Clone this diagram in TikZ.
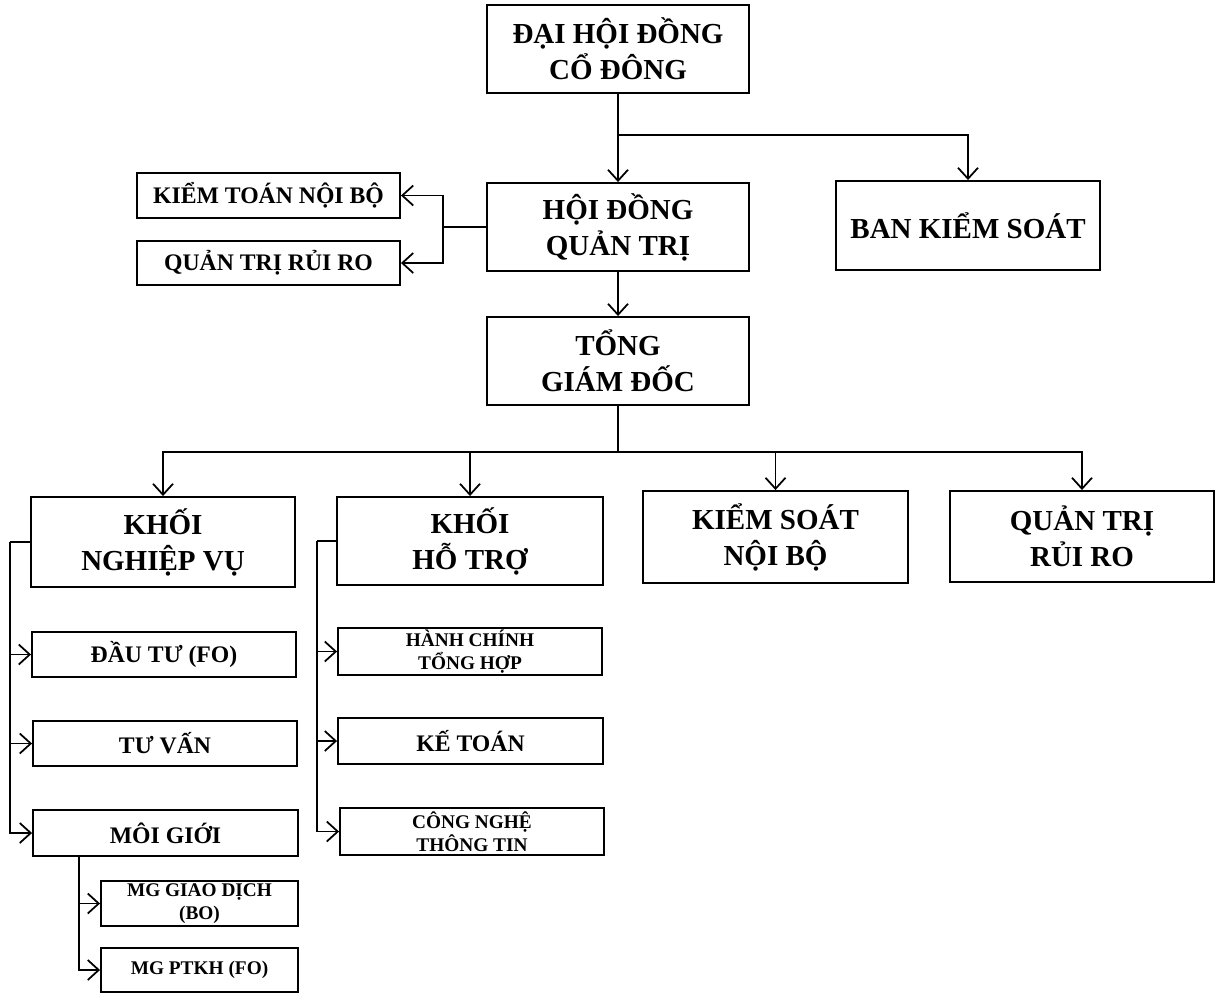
\documentclass[tikz,border=0pt]{standalone}
\usepackage{fontspec}
\setmainfont{Liberation Serif}
\usetikzlibrary{arrows.meta}

\begin{document}
\begin{tikzpicture}[x=0.02cm,y=-0.02cm]

  % Styles des boites et des fleches
  \tikzstyle{boite} = [draw, line width=1.1pt, align=center, inner sep=0pt]
  \tikzstyle{grand} = [boite, font=\fontsize{16.5}{20.5}\selectfont\bfseries]
  \tikzstyle{moyen} = [boite, font=\fontsize{13.5}{16}\selectfont\bfseries]
  \tikzstyle{petit} = [boite, font=\fontsize{11}{13}\selectfont\bfseries]
  \tikzstyle{trait} = [line width=1pt]
  \tikzstyle{fleche} = [-{Straight Barb[length=2.2mm,width=4mm]}, line width=1pt]

  % Boite englobante du schema
  \useasboundingbox (0,0) rectangle (1216,1001);

  % Direction
  \draw (618,49) node[grand, minimum width=5.24cm, minimum height=1.76cm] (dhdcd) {ĐẠI HỘI ĐỒNG\\CỔ ĐÔNG};
  \draw (618,227) node[grand, minimum width=5.24cm, minimum height=1.76cm] (hdqt) {HỘI ĐỒNG\\QUẢN TRỊ};
  \draw (968,225.5) node[grand, minimum width=5.28cm, minimum height=1.78cm] (bks) {BAN KIỂM SOÁT};
  \draw (618,361) node[grand, minimum width=5.24cm, minimum height=1.76cm] (tgd) {TỔNG\\GIÁM ĐỐC};

  % Comites du conseil
  \draw (268.5,195.5) node[moyen, minimum width=5.26cm, minimum height=0.9cm] (ktnb) {KIỂM TOÁN NỘI BỘ};
  \draw (268.5,263) node[moyen, minimum width=5.26cm, minimum height=0.88cm] (qtrrhd) {QUẢN TRỊ RỦI RO};

  % Khoi
  \draw (163,542) node[grand, minimum width=5.28cm, minimum height=1.8cm] (knv) {KHỐI\\NGHIỆP VỤ};
  \draw (470,541) node[grand, minimum width=5.32cm, minimum height=1.76cm] (kht) {KHỐI\\HỖ TRỢ};
  \draw (775.5,537) node[grand, minimum width=5.3cm, minimum height=1.84cm] (ksnb) {KIỂM SOÁT\\NỘI BỘ};
  \draw (1082,536.5) node[grand, minimum width=5.28cm, minimum height=1.82cm] (qtrr) {QUẢN TRỊ\\RỦI RO};

  % Nghiep vu
  \draw (164,654.5) node[moyen, minimum width=5.28cm, minimum height=0.9cm] (dautu) {ĐẦU TƯ (FO)};
  \draw (165,743.5) node[moyen, minimum width=5.28cm, minimum height=0.9cm] (tuvan) {TƯ VẤN};
  \draw (165.5,833) node[moyen, minimum width=5.3cm, minimum height=0.92cm] (moigioi) {MÔI GIỚI};
  \draw (199.5,903.5) node[petit, minimum width=3.94cm, minimum height=0.9cm] (mggd) {MG GIAO DỊCH\\(BO)};
  \draw (199.5,970) node[petit, minimum width=3.94cm, minimum height=0.88cm] (mgptkh) {MG PTKH (FO)};

  % Ho tro
  \draw (470,651.5) node[petit, minimum width=5.28cm, minimum height=0.94cm] (hcth) {HÀNH CHÍNH\\TỔNG HỢP};
  \draw (470.5,741) node[moyen, minimum width=5.3cm, minimum height=0.92cm] (ketoan) {KẾ TOÁN};
  \draw (472,831.5) node[petit, minimum width=5.28cm, minimum height=0.94cm] (cntt) {CÔNG NGHỆ\\THÔNG TIN};

  % Points de branchement
  \coordinate (b1) at (618,135);
  \coordinate (b2) at (443,227);
  \coordinate (b3) at (618,452);
  \coordinate (c1) at (10,542);
  \coordinate (c2) at (317,541);
  \coordinate (c3) at (79,856);

  % DHDCD -> HDQT, BKS
  \draw[fleche] (dhdcd) -- (hdqt);
  \draw[fleche] (b1) -| (bks);

  % HDQT -> comites
  \draw[trait] (hdqt) -- (b2);
  \draw[fleche] (b2) |- (ktnb);
  \draw[fleche] (b2) |- (qtrrhd);

  % HDQT -> TGD -> khoi
  \draw[fleche] (hdqt) -- (tgd);
  \draw[trait] (tgd) -- (b3);
  \draw[fleche] (b3) -| (knv);
  \draw[fleche] (b3) -| (kht);
  \draw[fleche] (b3) -| (ksnb);
  \draw[fleche] (b3) -| (qtrr);

  % Khoi nghiep vu
  \draw[trait] (knv) -- (c1);
  \draw[fleche] (c1) |- (dautu);
  \draw[fleche] (c1) |- (tuvan);
  \draw[fleche] (c1) |- (moigioi);
  \draw[fleche] (c3) |- (mggd);
  \draw[fleche] (c3) |- (mgptkh);

  % Khoi ho tro
  \draw[trait] (kht) -- (c2);
  \draw[fleche] (c2) |- (hcth);
  \draw[fleche] (c2) |- (ketoan);
  \draw[fleche] (c2) |- (cntt);

\end{tikzpicture}
\end{document}
